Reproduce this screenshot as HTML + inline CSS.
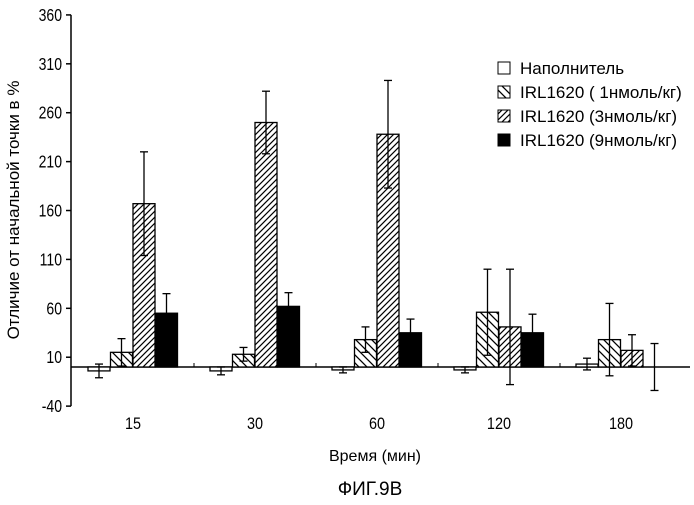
<!DOCTYPE html>
<html><head><meta charset="utf-8"><style>
body{margin:0;background:#fff;width:694px;height:500px;overflow:hidden}
text{font-family:"Liberation Sans",sans-serif;fill:#000}
</style></head><body>
<svg id="chart" width="694" height="500" viewBox="0 0 694 500" xmlns="http://www.w3.org/2000/svg">
<defs>
<pattern id="hb" patternUnits="userSpaceOnUse" width="8" height="8"><rect width="8" height="8" fill="#fff"/><path d="M-2,-2 L10,10 M-2,6 L2,10 M6,-2 L10,2" stroke="#000" stroke-width="1.3"/></pattern>
<pattern id="hf" patternUnits="userSpaceOnUse" width="6" height="6"><rect width="6" height="6" fill="#fff"/><path d="M-1,7 L7,-1 M-2,2 L2,-2 M4,8 L8,4" stroke="#000" stroke-width="1.2"/></pattern>
</defs>
<g id="axes"></g><g id="bars"></g>
<text x="19" y="210" transform="rotate(-90 19 210)" text-anchor="middle" font-size="17">Отличие от начальной точки в %</text>
<text x="375" y="461" text-anchor="middle" font-size="16">Время (мин)</text>
<text x="370" y="495" text-anchor="middle" font-size="19">ФИГ.9B</text>
<g font-size="17">
<rect x="498" y="62" width="12" height="12" fill="#fff" stroke="#000"/>
<text x="520" y="74">Наполнитель</text>
<rect x="498" y="86" width="12" height="12" fill="url(#hb)" stroke="#000"/>
<text x="520" y="98">IRL1620 ( 1нмоль/кг)</text>
<rect x="498" y="110" width="12" height="12" fill="url(#hf)" stroke="#000"/>
<text x="520" y="122">IRL1620 (3нмоль/кг)</text>
<rect x="498" y="134" width="12" height="12" fill="#000" stroke="#000"/>
<text x="520" y="146">IRL1620 (9нмоль/кг)</text>
</g>
</svg>
<script>
const categories=["15","30","60","120","180"];
const vehicle=[-4,-4,-3,-3,3];
const vehicleErr=[7,4,3,3,6];
const nm1=[15,13,28,56,28];
const nm1Err=[14,7,13,44,37];
const nm3=[167,250,238,41,17];
const nm3Err=[53,32,55,59,16];
const nm9=[55,62,35,35,0];
const nm9Err=[20,14,14,19,24];
const yTicks=[-40,10,60,110,160,210,260,310,360];
const NS="http://www.w3.org/2000/svg";
const y=v=>367-(v)*0.978;
const xc=i=>133+i*122;
function el(t,a,p){const e=document.createElementNS(NS,t);for(const k in a)e.setAttribute(k,a[k]);p.appendChild(e);return e;}
const ax=document.getElementById('axes'),bg=document.getElementById('bars');
let a=el('line',{x1:71,y1:y(360),x2:71,y2:y(-40),stroke:'#000','stroke-width':1.5},ax);

a=el('line',{x1:71,y1:y(0),x2:690,y2:y(0),stroke:'#000','stroke-width':1.5},ax);

yTicks.forEach(t=>{el('line',{x1:66,y1:y(t),x2:71,y2:y(t),stroke:'#000','stroke-width':1.5},ax);
const tx=el('text',{x:62/0.78,y:y(t)+6,'text-anchor':'end','font-size':18,transform:'scale(0.78 1)'},ax);
tx.textContent=t;
});
categories.forEach((c,i)=>{const tx=el('text',{x:xc(i)/0.85,y:429,'text-anchor':'middle','font-size':17,transform:'scale(0.85 1)'},ax);tx.textContent=c;

if(i<4)el('line',{x1:xc(i)+61,y1:y(0),x2:xc(i)+61,y2:y(0)-4,stroke:'#000'},ax);});
const series=[[vehicle,vehicleErr,'#fff','vehicle'],[nm1,nm1Err,'url(#hb)','1nm'],[nm3,nm3Err,'url(#hf)','3nm'],[nm9,nm9Err,'#000','9nm']];
series.forEach((s,k)=>{categories.forEach((c,i)=>{const v=s[0][i],e=s[1][i];const x0=xc(i)-45+k*22.5;
const top=Math.min(y(v),y(0)),h=Math.abs(y(v)-y(0));
if(h>0.5){const r=el('rect',{x:x0,y:top,width:22,height:h,fill:s[2],stroke:'#000','stroke-width':1.3},bg);
}
const cx=x0+11,lo=y(v-e),hi=y(v+e);
const g=el('g',{stroke:'#000','stroke-width':1.3},bg);

el('line',{x1:cx,y1:lo,x2:cx,y2:hi},g);el('line',{x1:cx-4,y1:hi,x2:cx+4,y2:hi},g);el('line',{x1:cx-4,y1:lo,x2:cx+4,y2:lo},g);});});
</script>
</body></html>
